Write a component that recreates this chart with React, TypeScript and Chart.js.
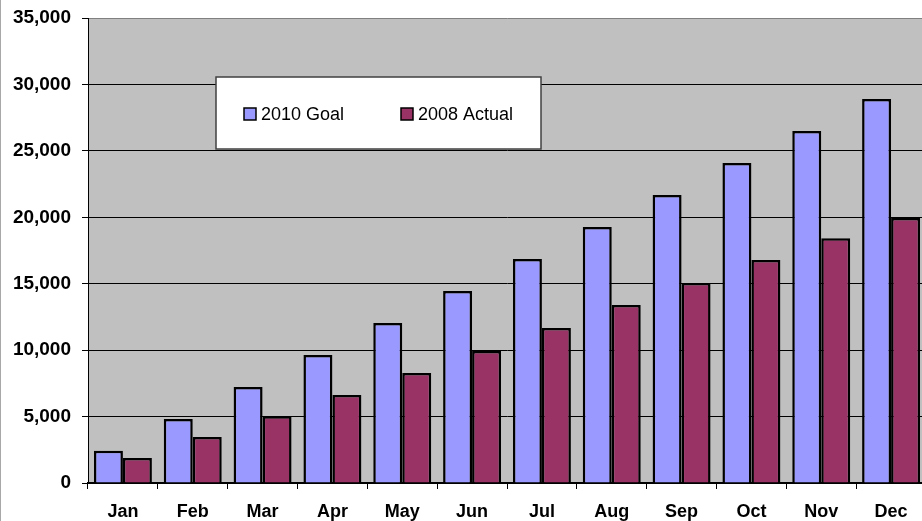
import React, { useEffect, useRef } from "react";
import { Chart, registerables } from "chart.js";

Chart.register(...registerables);

const months = ["Jan", "Feb", "Mar", "Apr", "May", "Jun", "Jul", "Aug", "Sep", "Oct", "Nov", "Dec"];
const goal2010 = [2420, 4820, 7220, 9630, 12040, 14450, 16860, 19260, 21670, 24080, 26490, 28900];
const actual2008 = [1880, 3460, 5020, 6620, 8280, 9930, 11660, 13390, 15050, 16780, 18430, 19940];
const seriesLabels = ["2010 Goal", "2008 Actual"];
const seriesColors = ["#9999FF", "#993366"];
const yMin = 0;
const yMax = 35000;
const yStep = 5000;

const FONT = '"Liberation Sans", Arial, sans-serif';

const plotBg = {
  id: "plotBg",
  beforeDraw(chart: any) {
    const { ctx, chartArea } = chart;
    const { left, top, right, bottom } = chartArea;
    ctx.save();
    ctx.fillStyle = "#FFFFFF";
    ctx.fillRect(0, 0, chart.width, chart.height);
    ctx.fillStyle = "#C0C0C0";
    ctx.fillRect(left, top, right - left, bottom - top);
    ctx.fillStyle = "#A8A8A8";
    ctx.fillRect(0, 0, 1, chart.height);
    ctx.restore();
  },
};

const boxLegend = {
  id: "boxLegend",
  afterDraw(chart: any) {
    const ctx = chart.ctx;
    const bx = 216, by = 77, bw = 325, bh = 72;
    ctx.save();
    ctx.fillStyle = "#FFFFFF";
    ctx.fillRect(bx, by, bw, bh);
    ctx.strokeStyle = "#404040";
    ctx.lineWidth = 1.5;
    ctx.strokeRect(bx, by, bw, bh);
    const items = [
      { sx: 244, tx: 261 },
      { sx: 401, tx: 418 },
    ];
    const cy = 114;
    ctx.font = `18px ${FONT}`;
    ctx.textBaseline = "middle";
    ctx.textAlign = "left";
    chart.data.datasets.forEach((ds: any, i: number) => {
      const it = items[i];
      ctx.fillStyle = ds.backgroundColor;
      ctx.fillRect(it.sx, cy - 6, 12, 12);
      ctx.strokeStyle = "#000";
      ctx.lineWidth = 1.5;
      ctx.strokeRect(it.sx, cy - 6, 12, 12);
      ctx.fillStyle = "#000";
      ctx.fillText(ds.label, it.tx, cy + 1);
    });
    ctx.restore();
  },
};

export default function App() {
  const ref = useRef<HTMLCanvasElement | null>(null);

  useEffect(() => {
    if (!ref.current) return;
    const chart = new Chart(ref.current, {
      type: "bar",
      data: {
        labels: months,
        datasets: [
          {
            label: seriesLabels[0],
            data: goal2010,
            backgroundColor: seriesColors[0],
            borderColor: "#000",
            borderWidth: 2.5,
            categoryPercentage: 0.83,
            barPercentage: 1,
          },
          {
            label: seriesLabels[1],
            data: actual2008,
            backgroundColor: seriesColors[1],
            borderColor: "#000",
            borderWidth: 2.5,
            categoryPercentage: 0.83,
            barPercentage: 1,
          },
        ],
      },
      options: {
        animation: false,
        responsive: false,
        devicePixelRatio: 1,
        layout: { padding: { top: 18, right: 14, left: 0, bottom: 0 } },
        plugins: {
          legend: { display: false },
          tooltip: { enabled: false },
        },
        scales: {
          x: {
            grid: {
              offset: true,
              drawOnChartArea: false,
              drawTicks: true,
              tickLength: 6,
              tickColor: "#000",
              color: "#000",
            },
            border: { display: true, color: "#000", width: 2 },
            ticks: {
              color: "#000",
              font: { family: FONT, size: 18, weight: "bold" },
              padding: 12,
              maxRotation: 0,
              autoSkip: false,
            },
            afterFit(scale: any) {
              scale.height = 38;
              scale.paddingLeft = 0;
              scale.paddingRight = 0;
            },
          },
          y: {
            min: yMin,
            max: yMax,
            ticks: {
              stepSize: yStep,
              color: "#000",
              font: { family: FONT, size: 19, weight: "bold" },
              padding: 11,
              callback: (v: any) => Number(v).toLocaleString("en-US"),
            },
            grid: {
              color: (c: any) => (c.tick && c.tick.value === yMax ? "#808080" : "#000"),
              tickColor: "#000",
              tickLength: 6,
              lineWidth: 1,
            },
            border: { display: true, color: "#000", width: 1 },
            afterFit(scale: any) {
              scale.width = 88;
              scale.paddingTop = 0;
              scale.paddingBottom = 0;
            },
          },
        },
      },
      plugins: [plotBg, boxLegend],
    });
    return () => chart.destroy();
  }, []);

  return (
    <div
      style={{
        position: "fixed",
        left: 0,
        top: 0,
        width: 922,
        height: 521,
        overflow: "hidden",
        background: "#fff",
      }}
    >
      <canvas ref={ref} width={940} height={521} style={{ width: 940, height: 521, display: "block" }} />
    </div>
  );
}
